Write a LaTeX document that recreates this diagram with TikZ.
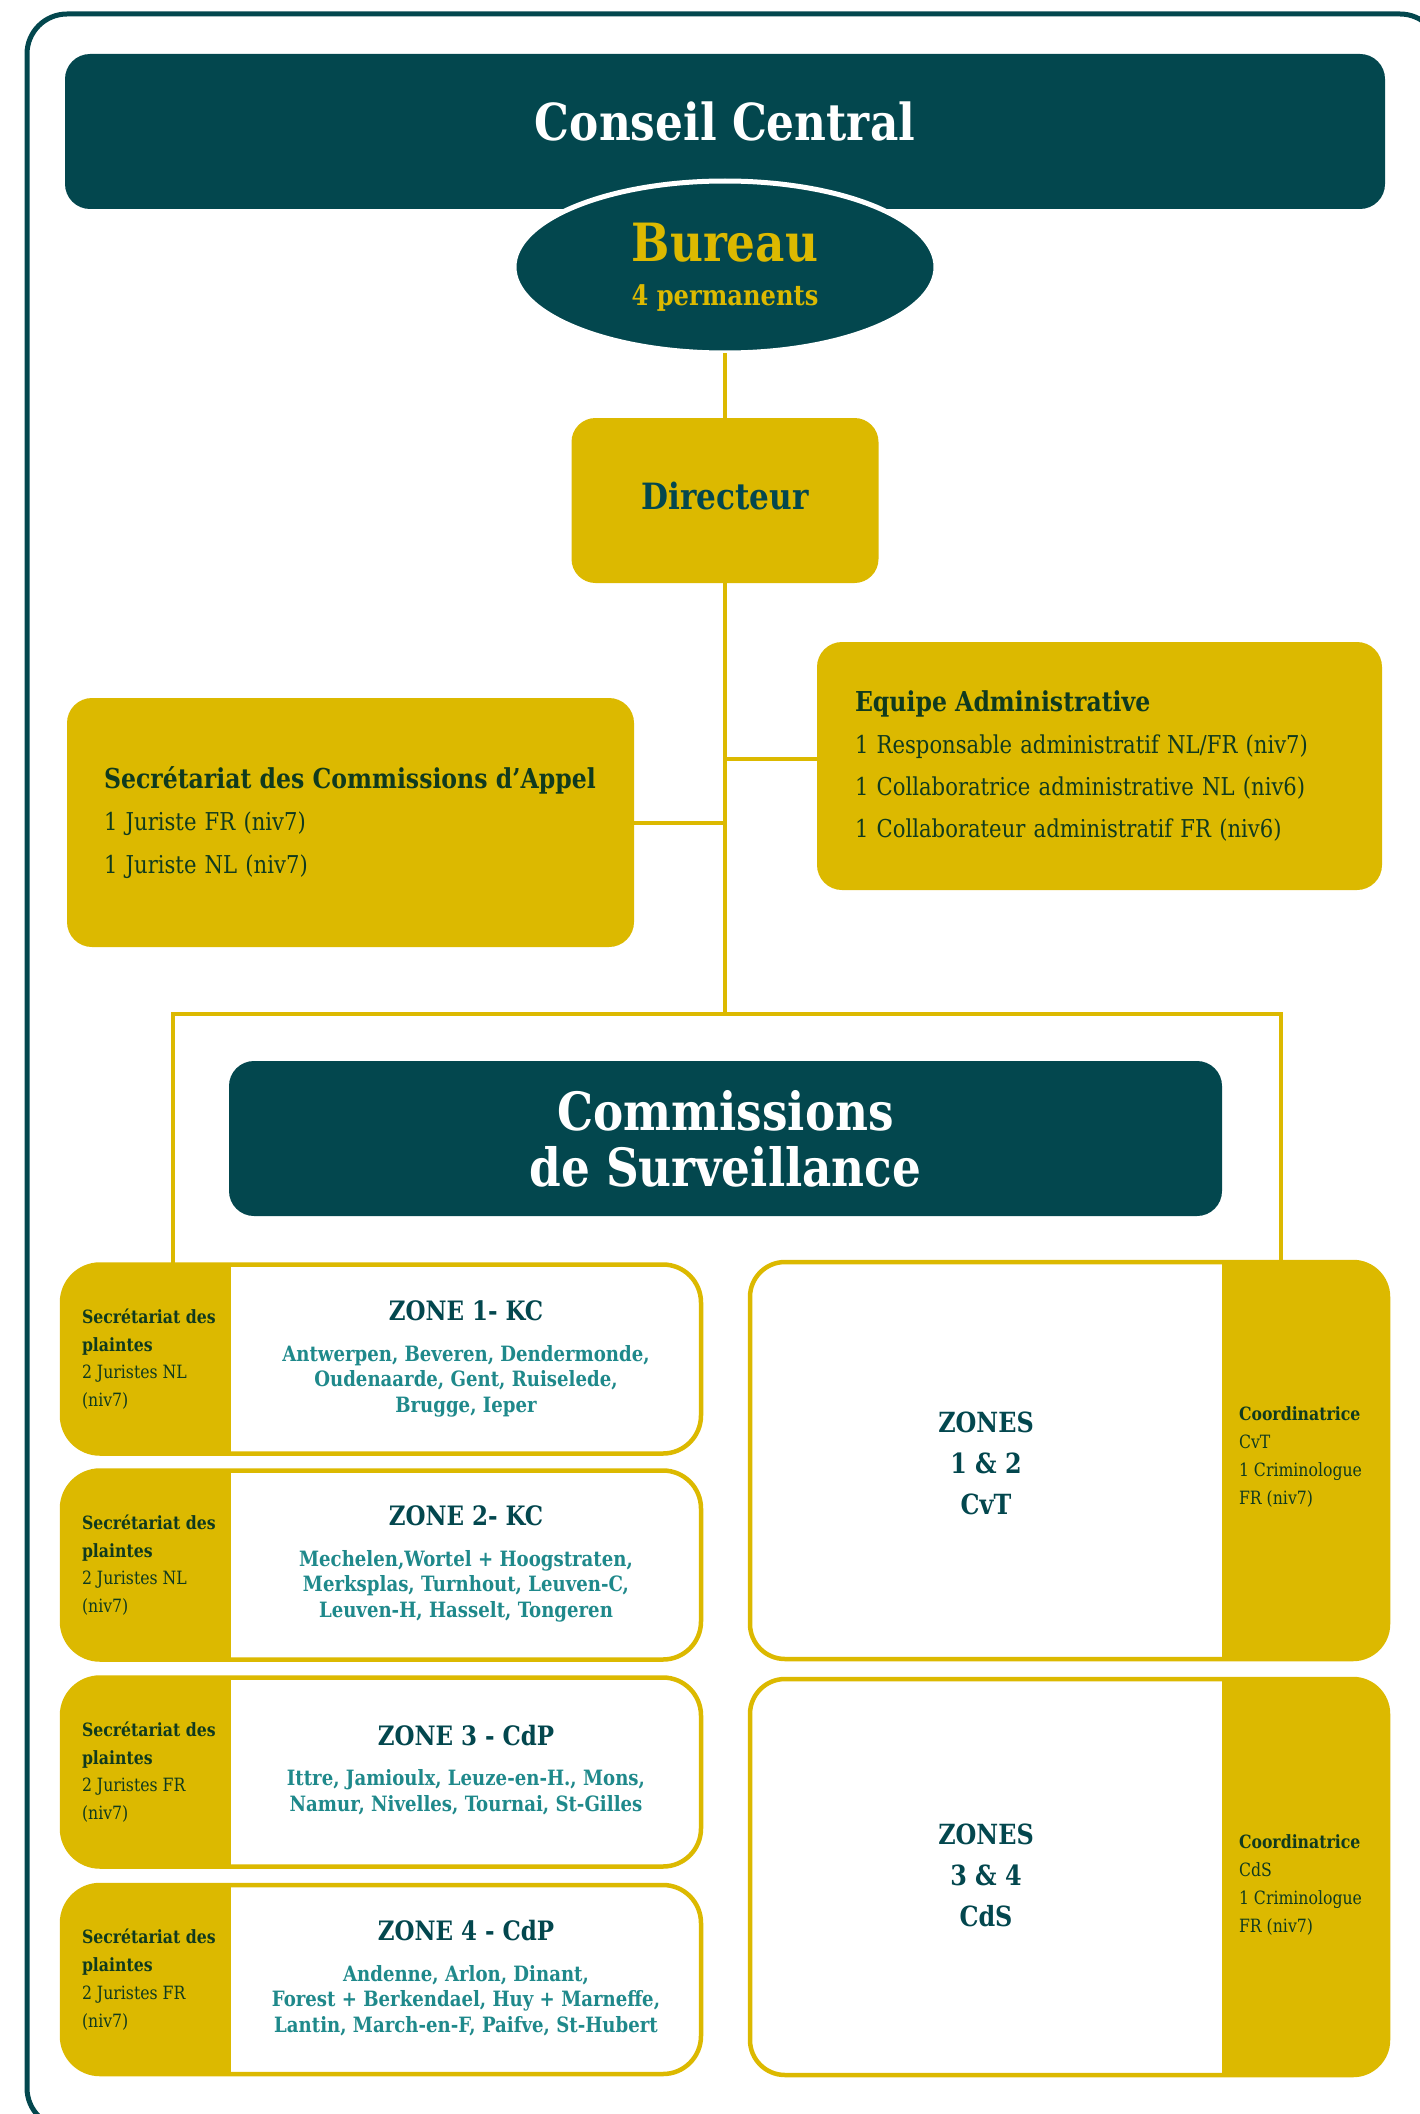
\documentclass[tikz,border=0pt]{standalone}
\usepackage{fontspec}
\setmainfont{DejaVu Serif}[FakeStretch=0.86]
\definecolor{D}{RGB}{3,71,78}
\definecolor{Y}{RGB}{220,185,0}
\definecolor{K}{RGB}{16,58,30}
\definecolor{L}{RGB}{31,137,139}
\usetikzlibrary{shapes.geometric}
\usetikzlibrary{positioning}
\newcommand*{\zonehead}[1]{{\color{D}\fontsize{7.6}{9}\selectfont #1}}
\tikzstyle{base}=[x=0.1mm, y=-0.1mm, inner sep=0pt, outer sep=0pt]
\tikzstyle{darkbox}=[rectangle, rounded corners=2.5mm, fill=D, text=white, align=center, font=\bfseries\fontsize{15}{16}\selectfont]
\tikzstyle{goldbox}=[rectangle, rounded corners=2.5mm, fill=Y, text=K, align=left, font=\fontsize{7}{12}\selectfont]
\tikzstyle{link}=[draw=Y, line width=0.4mm]
\tikzstyle{zone}=[rectangle, rounded corners=3.8mm, draw=Y, fill=white, line width=0.45mm]
\tikzstyle{stripL}=[zone, path picture={\fill[Y, sharp corners] (path picture bounding box.north west) rectangle ([xshift=16.9mm]path picture bounding box.south west);}]
\tikzstyle{stripR}=[zone, rounded corners=3.5mm, path picture={\fill[Y, sharp corners] ([xshift=-16.6mm]path picture bounding box.north east) rectangle (path picture bounding box.south east);}]
\tikzstyle{striptext}=[anchor=west, align=left, text=K, font=\fontsize{5.2}{7.9}\selectfont]
\tikzstyle{zonetext}=[align=center, text=L, font=\bfseries\fontsize{6}{7.25}\selectfont]
\tikzstyle{zonestext}=[align=center, text=D, font=\bfseries\fontsize{7.9}{11.7}\selectfont]

\begin{document}
\begin{tikzpicture}[base]
    \useasboundingbox (0,0) rectangle (1420,2114);
    \draw [D, line width=0.5mm, rounded corners=4mm] (27,14) rectangle (1440,2128);

    % top of the chart
    \node [darkbox, font=\bfseries\fontsize{14.5}{16}\selectfont, text depth=2mm, minimum width=132mm, minimum height=15.5mm] (conseil) at (725,131.5) {Conseil Central};
    \node [ellipse, fill=D, draw=white, line width=0.5mm, minimum width=42.2mm, minimum height=17.2mm, text=Y, align=center, font=\bfseries\fontsize{15}{12.4}\selectfont] (bureau) at (725,267) {Bureau\\{\fontsize{8}{9}\selectfont 4 permanents}};
    \node [goldbox, rounded corners=2.4mm, minimum width=30.7mm, minimum height=16.5mm, text depth=1mm, text=D, font=\bfseries\fontsize{10.3}{12}\selectfont] (directeur) at (725,500.5) {Directeur};
    \node [goldbox, text width=49.3mm, minimum width=56.7mm, minimum height=24.9mm] (appel) at (350.5,822.5) {{\bfseries\fontsize{7.8}{12}\selectfont Secrétariat des Commissions d’Appel}\\1 Juriste FR (niv7)\\1 Juriste NL (niv7)};
    \node [goldbox, text width=48.9mm, minimum width=56.5mm, minimum height=24.8mm] (equipe) at (1099.5,766) {{\bfseries\fontsize{7.8}{12}\selectfont Equipe Administrative}\\1 Responsable administratif NL/FR (niv7)\\1 Collaboratrice administrative NL (niv6)\\1 Collaborateur administratif FR (niv6)};
    \node [darkbox, minimum width=99.3mm, minimum height=15.5mm] (commissions) at (725.5,1138.5) {Commissions\\de Surveillance};

    % zones
    \foreach \i/\y in {1/1359,2/1565,3/1772,4/1979.5}
        \node [stripL, minimum width=63.9mm, minimum height=18.9mm] (z\i) at (381.5,\y) {};
    \node [stripR, minimum width=63.8mm, minimum height=39.7mm] (z12) at (1069,1460.5) {};
    \node [stripR, minimum width=63.8mm, minimum height=39.6mm] (z34) at (1069,1877) {};

    \node [striptext] (s1) at ([xshift=2mm]z1.west) {\textbf{Secrétariat des}\\\textbf{plaintes}\\2 Juristes NL\\(niv7)};
    \node [striptext] (s2) at ([xshift=2mm]z2.west) {\textbf{Secrétariat des}\\\textbf{plaintes}\\2 Juristes NL\\(niv7)};
    \node [striptext] (s3) at ([xshift=2mm]z3.west) {\textbf{Secrétariat des}\\\textbf{plaintes}\\2 Juristes FR\\(niv7)};
    \node [striptext] (s4) at ([xshift=2mm]z4.west) {\textbf{Secrétariat des}\\\textbf{plaintes}\\2 Juristes FR\\(niv7)};

    \node [zonetext] (t1) at (466,1359) {\zonehead{ZONE 1- KC}\\[4.2pt]Antwerpen, Beveren, Dendermonde,\\Oudenaarde, Gent, Ruiselede,\\Brugge, Ieper};
    \node [zonetext] (t2) at (466,1564) {\zonehead{ZONE 2- KC}\\[4.2pt]Mechelen,Wortel + Hoogstraten,\\Merksplas, Turnhout, Leuven-C,\\Leuven-H, Hasselt, Tongeren};
    \node [zonetext] (t3) at (466,1770) {\zonehead{ZONE 3 - CdP}\\[4.2pt]Ittre, Jamioulx, Leuze-en-H., Mons,\\Namur, Nivelles, Tournai, St-Gilles};
    \node [zonetext] (t4) at (466,1978) {\zonehead{ZONE 4 - CdP}\\[4.2pt]Andenne, Arlon, Dinant,\\Forest + Berkendael, Huy + Marneffe,\\Lantin, March-en-F, Paifve, St-Hubert};

    \node [zonestext] (t12) at (986,1463) {ZONES\\1 \& 2\\CvT};
    \node [zonestext] (t34) at (986,1875) {ZONES\\3 \& 4\\CdS};
    \node [striptext] (c12) at (1239,1457) {\textbf{Coordinatrice}\\CvT\\1 Criminologue\\FR (niv7)};
    \node [striptext] (c34) at (1239,1885) {\textbf{Coordinatrice}\\CdS\\1 Criminologue\\FR (niv7)};

    % connectors
    \coordinate (csL) at (173,1014);
    \coordinate (csR) at (1281,1014);
    \draw [link] (bureau.south) -- (directeur.north);
    \draw [link] (directeur.south) -- (directeur.south |- csL);
    \draw [link] (appel.east) -- (appel.east -| directeur.south);
    \draw [link] ([yshift=0.7mm]equipe.west) -- ([yshift=0.7mm]equipe.west -| directeur.south);
    \draw [link] (z1.north -| csL) |- (csR) -- (z12.north -| csR);
\end{tikzpicture}
\end{document}
